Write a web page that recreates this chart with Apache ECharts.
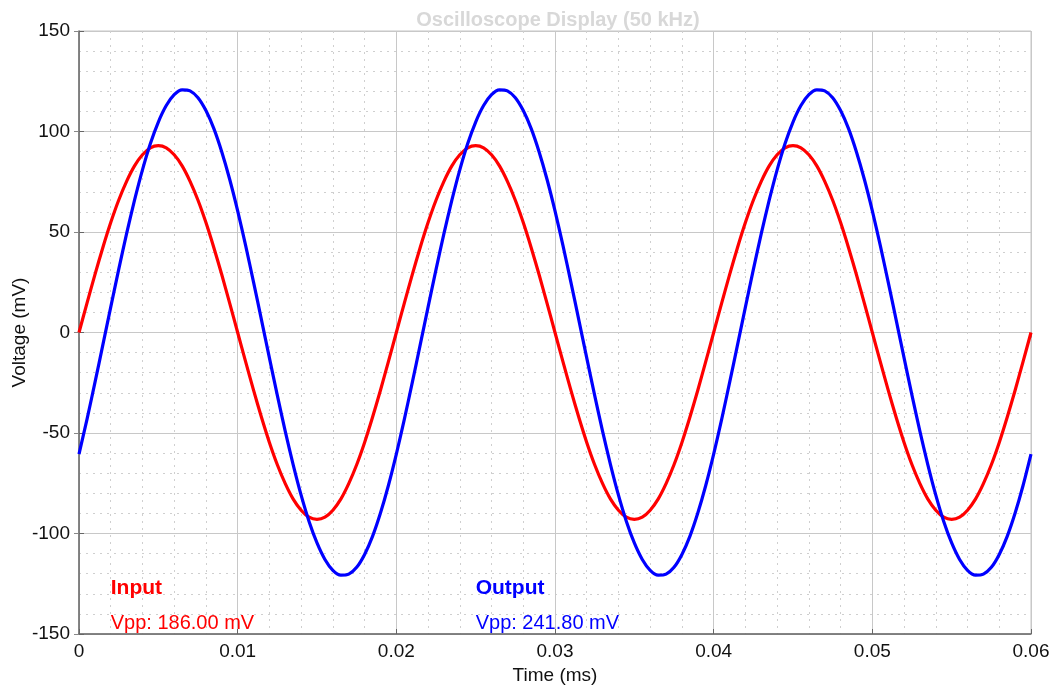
<!DOCTYPE html>
<html>
<head>
<meta charset="utf-8">
<script src="https://cdn.jsdelivr.net/npm/echarts@6/dist/echarts.min.js"></script>
<style>
  html, body { margin: 0; padding: 0; background: #fff; }
  #scope { width: 1052px; height: 693px; }
</style>
</head>
<body>
<div id="scope"></div>
<script>
// time axis (ms)
const times = [
  0, 0.0005, 0.001, 0.0015, 0.002, 0.0025, 0.003, 0.0035, 0.004, 0.0045,
  0.005, 0.0055, 0.006, 0.0065, 0.007, 0.0075, 0.008, 0.0085, 0.009, 0.0095,
  0.01, 0.0105, 0.011, 0.0115, 0.012, 0.0125, 0.013, 0.0135, 0.014, 0.0145,
  0.015, 0.0155, 0.016, 0.0165, 0.017, 0.0175, 0.018, 0.0185, 0.019, 0.0195,
  0.02, 0.0205, 0.021, 0.0215, 0.022, 0.0225, 0.023, 0.0235, 0.024, 0.0245,
  0.025, 0.0255, 0.026, 0.0265, 0.027, 0.0275, 0.028, 0.0285, 0.029, 0.0295,
  0.03, 0.0305, 0.031, 0.0315, 0.032, 0.0325, 0.033, 0.0335, 0.034, 0.0345,
  0.035, 0.0355, 0.036, 0.0365, 0.037, 0.0375, 0.038, 0.0385, 0.039, 0.0395,
  0.04, 0.0405, 0.041, 0.0415, 0.042, 0.0425, 0.043, 0.0435, 0.044, 0.0445,
  0.045, 0.0455, 0.046, 0.0465, 0.047, 0.0475, 0.048, 0.0485, 0.049, 0.0495,
  0.05, 0.0505, 0.051, 0.0515, 0.052, 0.0525, 0.053, 0.0535, 0.054, 0.0545,
  0.055, 0.0555, 0.056, 0.0565, 0.057, 0.0575, 0.058, 0.0585, 0.059, 0.0595,
  0.06
]

// input voltage (mV)
const inputMv = [
  0, 14.5, 28.7, 42.2, 54.7, 65.8, 75.2, 82.9, 88.4, 91.9,
  93, 91.9, 88.4, 82.9, 75.2, 65.8, 54.7, 42.2, 28.7, 14.5,
  0, -14.5, -28.7, -42.2, -54.7, -65.8, -75.2, -82.9, -88.4, -91.9,
  -93, -91.9, -88.4, -82.9, -75.2, -65.8, -54.7, -42.2, -28.7, -14.5,
  0, 14.5, 28.7, 42.2, 54.7, 65.8, 75.2, 82.9, 88.4, 91.9,
  93, 91.9, 88.4, 82.9, 75.2, 65.8, 54.7, 42.2, 28.7, 14.5,
  0, -14.5, -28.7, -42.2, -54.7, -65.8, -75.2, -82.9, -88.4, -91.9,
  -93, -91.9, -88.4, -82.9, -75.2, -65.8, -54.7, -42.2, -28.7, -14.5,
  0, 14.5, 28.7, 42.2, 54.7, 65.8, 75.2, 82.9, 88.4, 91.9,
  93, 91.9, 88.4, 82.9, 75.2, 65.8, 54.7, 42.2, 28.7, 14.5,
  0, -14.5, -28.7, -42.2, -54.7, -65.8, -75.2, -82.9, -88.4, -91.9,
  -93, -91.9, -88.4, -82.9, -75.2, -65.8, -54.7, -42.2, -28.7, -14.5,
  0
]

// output voltage (mV)
const outputMv = [
  -60.5, -43.3, -25.1, -6.3, 12.6, 31.3, 49.2, 65.8, 80.9, 94.0,
  104.7, 112.9, 118.3, 120.7, 120.2, 116.8, 110.4, 101.4, 89.8, 76.1,
  60.5, 43.3, 25.1, 6.3, -12.6, -31.3, -49.2, -65.8, -80.9, -94.0,
  -104.7, -112.9, -118.3, -120.7, -120.2, -116.8, -110.4, -101.4, -89.8, -76.1,
  -60.5, -43.3, -25.1, -6.3, 12.6, 31.3, 49.2, 65.8, 80.9, 94.0,
  104.7, 112.9, 118.3, 120.7, 120.2, 116.8, 110.4, 101.4, 89.8, 76.1,
  60.5, 43.3, 25.1, 6.3, -12.6, -31.3, -49.2, -65.8, -80.9, -94.0,
  -104.7, -112.9, -118.3, -120.7, -120.2, -116.8, -110.4, -101.4, -89.8, -76.1,
  -60.5, -43.3, -25.1, -6.3, 12.6, 31.3, 49.2, 65.8, 80.9, 94.0,
  104.7, 112.9, 118.3, 120.7, 120.2, 116.8, 110.4, 101.4, 89.8, 76.1,
  60.5, 43.3, 25.1, 6.3, -12.6, -31.3, -49.2, -65.8, -80.9, -94.0,
  -104.7, -112.9, -118.3, -120.7, -120.2, -116.8, -110.4, -101.4, -89.8, -76.1,
  -60.5
]

// annotation text
const inputLabel = ['Input', 'Vpp: 186.00 mV']
const outputLabel = ['Output', 'Vpp: 241.80 mV']

const FONT = '"Liberation Sans", Arial, Helvetica, sans-serif'

const myChart = echarts.init(document.querySelector('#scope'))

const option = {
  animation: false,
  backgroundColor: '#fff',
  title: {
    text: 'Oscilloscope Display (50 kHz)',
    left: 553,
    textAlign: 'center',
    top: 5,
    textStyle: { color: '#d8d8d8', fontSize: 20, fontWeight: 'bold', fontFamily: FONT }
  },
  grid: {
    left: 79, right: 21, top: 31, bottom: 59,
    outerBoundsMode: 'none',
    containLabel: false,
    show: true, borderColor: '#c4c4c4', borderWidth: 1
  },
  xAxis: [
    {
      type: 'value',
      min: 0, max: 0.06, interval: 0.01,
      name: 'Time (ms)',
      nameLocation: 'middle',
      nameGap: 32,
      nameMoveOverlap: false,
      nameTextStyle: { color: '#111', fontSize: 19, fontFamily: FONT },
      axisLine: { onZero: false, lineStyle: { color: '#666', width: 1.5 } },
      axisTick: { inside: true, length: 5, lineStyle: { color: '#666' } },
      axisLabel: {
        color: '#111', fontSize: 19, fontFamily: FONT, margin: 8,
        formatter: v => (v === 0 ? '0' : String(+v.toFixed(2)))
      },
      splitLine: { show: true, lineStyle: { color: '#c8c8c8', width: 1 } },
      minorTick: { show: false, splitNumber: 5 },
      minorSplitLine: { show: true, lineStyle: { color: '#cfcfcf', type: [2, 5], width: 1 } }
    },
    {
      type: 'value',
      position: 'top',
      min: 0, max: 0.06, interval: 0.01,
      axisLine: { show: false },
      axisTick: { inside: true, length: 5, lineStyle: { color: '#888' } },
      axisLabel: { show: false },
      splitLine: { show: false }
    }
  ],
  yAxis: [
    {
      type: 'value',
      min: -150, max: 150, interval: 50,
      name: 'Voltage (mV)',
      nameLocation: 'middle',
      nameGap: 50,
      nameMoveOverlap: false,
      nameTextStyle: { color: '#111', fontSize: 19, fontFamily: FONT },
      axisLine: { show: true, onZero: false, lineStyle: { color: '#666', width: 1.5 } },
      axisTick: { show: true, inside: true, length: 5, lineStyle: { color: '#666' } },
      axisLabel: { color: '#111', fontSize: 19, fontFamily: FONT, margin: 9 },
      splitLine: { show: true, lineStyle: { color: '#c8c8c8', width: 1 } },
      minorTick: { show: false, splitNumber: 5 },
      minorSplitLine: { show: true, lineStyle: { color: '#cfcfcf', type: [2, 5], width: 1 } }
    },
    {
      type: 'value',
      position: 'right',
      min: -150, max: 150, interval: 50,
      axisLine: { show: false },
      axisTick: { show: true, inside: true, length: 5, lineStyle: { color: '#888' } },
      axisLabel: { show: false },
      splitLine: { show: false }
    }
  ],
  series: [
    {
      name: 'Input',
      type: 'line',
      data: times.map((t, i) => [t, inputMv[i]]),
      showSymbol: false,
      smooth: 0.25,
      lineStyle: { color: '#ff0000', width: 3.2, join: 'round' },
      z: 3
    },
    {
      name: 'Output',
      type: 'line',
      data: times.map((t, i) => [t, outputMv[i]]),
      showSymbol: false,
      smooth: 0.25,
      lineStyle: { color: '#0000ff', width: 3.2, join: 'round' },
      z: 4
    }
  ]
}
myChart.setOption(option)

// 注释文字
function labelAt(x, y, text, color, bold) {
  const p = myChart.convertToPixel({ gridIndex: 0 }, [x, y])
  return {
    type: 'text',
    x: p[0], y: p[1],
    style: {
      text: text,
      fill: color,
      fontSize: bold ? 21 : 20,
      fontWeight: bold ? 'bold' : 'normal',
      fontFamily: FONT,
      textVerticalAlign: 'middle'
    },
    z: 10
  }
}

myChart.setOption({
  graphic: [
    labelAt(0.002, -127, inputLabel[0], '#ff0000', true),
    labelAt(0.002, -145, inputLabel[1], '#ff0000', false),
    labelAt(0.025, -127, outputLabel[0], '#0000ff', true),
    labelAt(0.025, -145, outputLabel[1], '#0000ff', false)
  ]
})
</script>
</body>
</html>
